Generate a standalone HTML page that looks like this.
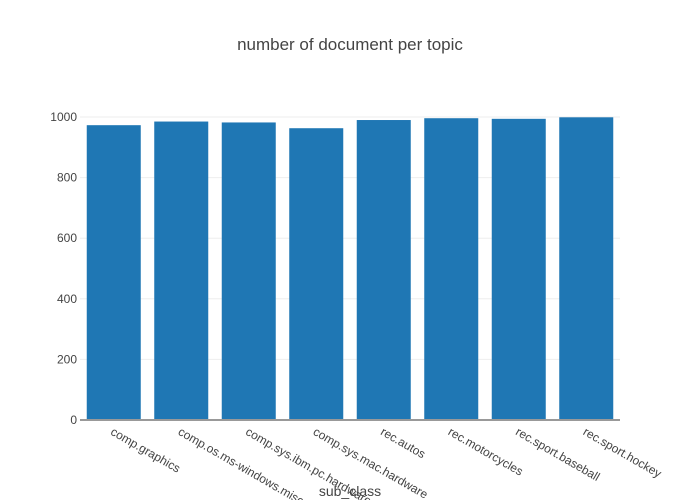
<!DOCTYPE html>
<html><head><meta charset="utf-8"><style>
body{margin:0;background:#fff}
svg{font-family:"Liberation Sans","DejaVu Sans",sans-serif;display:block}
</style></head><body>
<svg id="chart" width="700" height="500">
<text x="350" y="50" text-anchor="middle" font-size="17" fill="#444">number of document per topic</text>
<g id="grid"></g><g id="bars"></g><g id="xlabels"></g><g id="ylabels"></g>
<line x1="80" x2="620" y1="420" y2="420" stroke="#999" stroke-width="2"/>
<text x="350" y="496" text-anchor="middle" font-size="14" fill="#444">sub_class</text>
</svg>
<script>
const categories=["comp.graphics","comp.os.ms-windows.misc","comp.sys.ibm.pc.hardware","comp.sys.mac.hardware","rec.autos","rec.motorcycles","rec.sport.baseball","rec.sport.hockey"];
const counts=[973,985,982,963,990,996,994,999];
const yTicks=[0,200,400,600,800,1000];
const NS="http://www.w3.org/2000/svg";
const x0=80,x1=620,yb=420,yt=117,ymax=1000;
const y=v=>yb-(v/ymax)*(yb-yt);
const step=(x1-x0)/categories.length,bw=step*0.8;
const xc=i=>x0+step*(i+0.5);
function mk(t,a,p){const e=document.createElementNS(NS,t);for(const k in a)e.setAttribute(k,a[k]);p.appendChild(e);return e;}
const grid=document.getElementById('grid'),yl=document.getElementById('ylabels');
yTicks.forEach(v=>{
 if(v>0){const l=mk('line',{x1:x0,x2:x1,y1:y(v),y2:y(v),stroke:'#eee'},grid);
 
 }
 const t=mk('text',{x:x0-3,y:y(v)+4,'text-anchor':'end','font-size':12,fill:'#444'},yl);t.textContent=v;
 
 
});
const bars=document.getElementById('bars'),xl=document.getElementById('xlabels');
categories.forEach((c,i)=>{
 const r=mk('rect',{x:xc(i)-bw/2,y:y(counts[i]),width:bw,height:yb-y(counts[i]),fill:'#1f77b4'},bars);
 
 
 const lx=xc(i)-4,ly=434;
 const t=mk('text',{x:lx,y:ly,'font-size':12,fill:'#444',transform:`rotate(30 ${lx} ${ly})`},xl);t.textContent=c;
 
 
});
</script>
</body></html>
